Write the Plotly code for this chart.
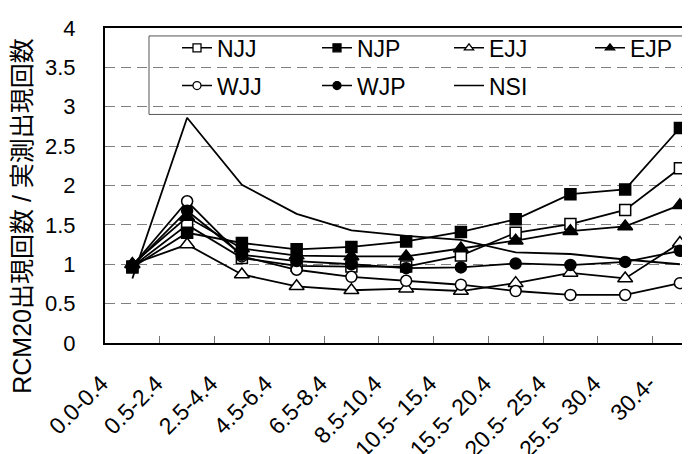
import plotly.graph_objects as go

categories = ["0.0-0.4", "0.5-2.4", "2.5-4.4", "4.5-6.4", "6.5-8.4", "8.5-10.4",
              "10.5- 15.4", "15.5- 20.4", "20.5- 25.4", "25.5- 30.4", "30.4-"]

NJJ = [0.97, 1.50, 1.08, 0.98, 0.97, 0.97, 1.11, 1.40, 1.51, 1.69, 2.22]
NJP = [0.96, 1.40, 1.27, 1.19, 1.22, 1.29, 1.41, 1.57, 1.89, 1.95, 2.73]
EJJ = [1.00, 1.25, 0.87, 0.72, 0.67, 0.69, 0.66, 0.76, 0.89, 0.82, 1.27]
EJP = [1.00, 1.60, 1.20, 1.11, 1.10, 1.10, 1.20, 1.30, 1.42, 1.48, 1.75]
WJJ = [0.98, 1.80, 1.10, 0.93, 0.84, 0.79, 0.74, 0.66, 0.61, 0.61, 0.76]
WJP = [0.98, 1.68, 1.12, 1.04, 1.00, 0.95, 0.96, 1.01, 0.99, 1.03, 1.17]
NSI = [0.82, 2.86, 2.01, 1.64, 1.43, 1.36, 1.31, 1.15, 1.13, 1.06, 1.00]

y_title = "RCM20出現回数 / 実測出現回数"

FONT = "Liberation Sans, Arial, Noto Sans CJK JP"

# name, values, symbol, fill, marker size
series = [
    ("NJJ", NJJ, "square", "white", 11),
    ("NJP", NJP, "square", "black", 11),
    ("EJJ", EJJ, "triangle-up", "white", 13),
    ("EJP", EJP, "triangle-up", "black", 13),
    ("WJJ", WJJ, "circle", "white", 11),
    ("WJP", WJP, "circle", "black", 11),
]

# legend slot layout (pixel positions within the 690x454 figure)
PL, PT, PW, PH = 97, 20, 593, 317
col_px = [169, 309, 441, 582]
row_px = [40, 78]
slots = {"NJJ": (0, 0), "NJP": (1, 0), "EJJ": (2, 0), "EJP": (3, 0),
         "WJJ": (0, 1), "WJP": (1, 1), "NSI": (2, 1)}

fig = go.Figure()

fig.add_trace(go.Scatter(x=categories, y=NSI, mode="lines", name="NSI",
                         line=dict(color="black", width=1.8), showlegend=False))

for name, vals, sym, fill, size in series:
    fig.add_trace(go.Scatter(
        x=categories, y=vals, mode="lines+markers", name=name,
        line=dict(color="black", width=1.8),
        marker=dict(symbol=sym, size=size, color=fill,
                    line=dict(color="black", width=1.5)),
        showlegend=False))

legend_layouts = {}
order = ["NJJ", "NJP", "EJJ", "EJP", "WJJ", "WJP", "NSI"]
for i, name in enumerate(order):
    key = "legend" if i == 0 else f"legend{i + 1}"
    c, r = slots[name]
    legend_layouts[key] = dict(
        x=(col_px[c] - PL) / PW, y=(PT + PH - row_px[r]) / PH,
        xanchor="left", yanchor="middle", orientation="h",
        bgcolor="rgba(0,0,0,0)", borderwidth=0, itemclick=False,
        font=dict(family=FONT, size=23, color="black"))
    if name == "NSI":
        fig.add_trace(go.Scatter(x=[None], y=[None], mode="lines", name=name,
                                 legend=key, line=dict(color="black", width=1.5),
                                 showlegend=True))
    else:
        _, vals, sym, fill, size = next(s for s in series if s[0] == name)
        fig.add_trace(go.Scatter(
            x=[None], y=[None], mode="lines+markers", name=name, legend=key,
            line=dict(color="black", width=1.5),
            marker=dict(symbol=sym, size=8, color=fill,
                        line=dict(color="black", width=1.3)),
            showlegend=True))

fig.update_layout(
    width=690, height=454,
    margin=dict(l=PL, r=0, t=PT, b=454 - PT - PH),
    paper_bgcolor="white", plot_bgcolor="white",
    font=dict(family=FONT, color="black"),
    xaxis=dict(
        type="category", range=[-0.5, 10.33],
        showline=True, linecolor="black", linewidth=2, mirror=True,
        ticks="inside", tickson="boundaries", ticklen=7, tickwidth=1,
        tickcolor="#777777", showgrid=False, tickangle=-45,
        tickfont=dict(family=FONT, size=23, color="black"),
        ticklabelstandoff=16, ticklabelshift=-31,
    ),
    yaxis=dict(
        range=[0, 4], dtick=0.5, tick0=0,
        showline=True, linecolor="black", linewidth=2, mirror=False,
        ticks="", zeroline=False,
        showgrid=True, gridcolor="#808080", gridwidth=1, griddash="10px,6px",
        tickfont=dict(family=FONT, size=22, color="black"),
        ticklabelstandoff=23,
    ),
    shapes=[dict(type="rect", xref="paper", yref="paper",
                 x0=(141 - PL) / PW, x1=(688 - PL) / PW,
                 y0=(PT + PH - 107) / PH, y1=(PT + PH - 28) / PH,
                 line=dict(color="#555555", width=1), fillcolor="white",
                 layer="between")],
    annotations=[dict(text=y_title, xref="paper", yref="paper",
                      x=(14 - PL) / PW, y=0.404, textangle=-90, showarrow=False,
                      xanchor="center", yanchor="middle",
                      font=dict(family=FONT, size=25, color="black"))],
    **legend_layouts,
)

fig.write_html("out.html")
